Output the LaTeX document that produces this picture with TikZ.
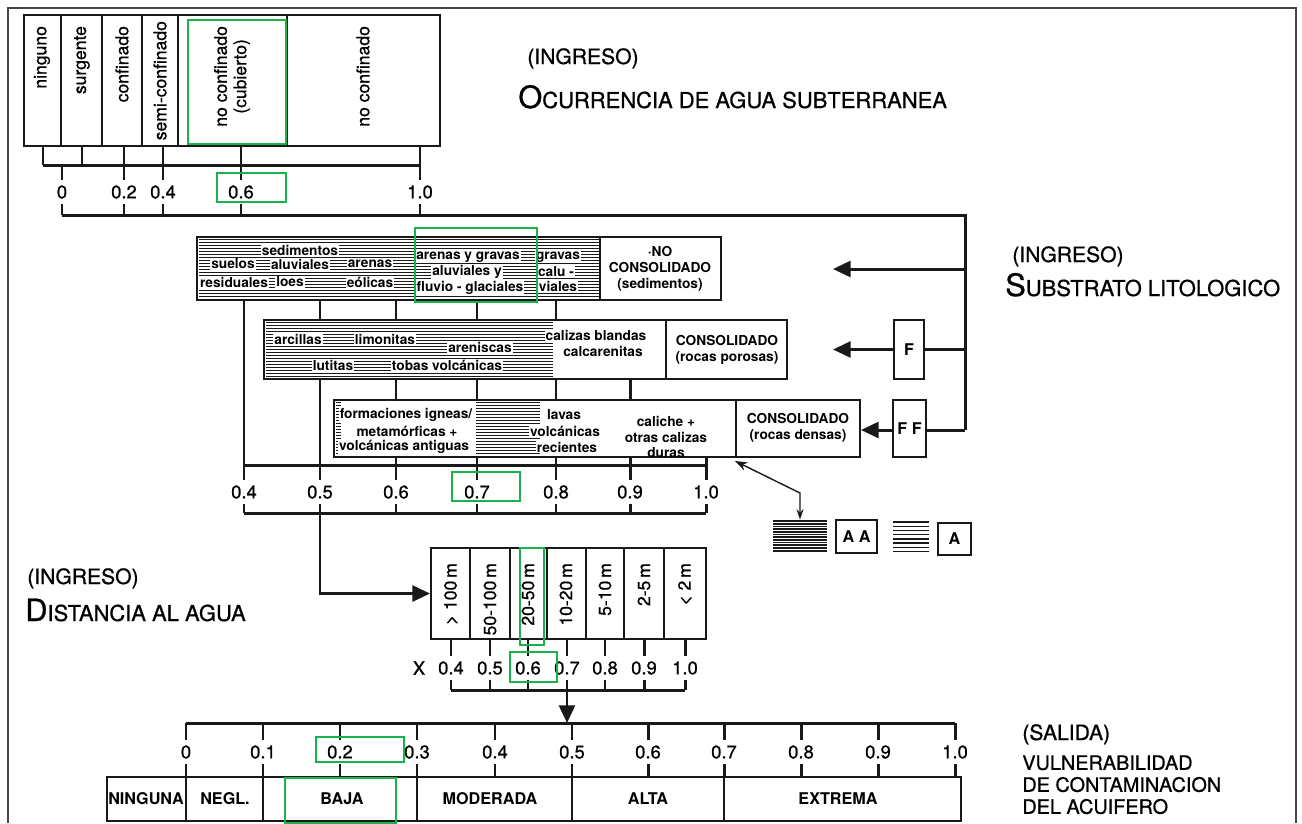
\documentclass[tikz,border=0pt]{standalone}
\usepackage{fontspec}
\setmainfont{TeX Gyre Heros}
\newfontfamily\medfont[FakeBold=0.8]{TeX Gyre Heros}
\usepackage{tikz}
\usetikzlibrary{arrows.meta, fit}
\definecolor{inkblack}{RGB}{25,25,25}
\definecolor{framegray}{RGB}{70,70,70}
\definecolor{markgreen}{RGB}{25,178,75}
\tikzset{
  box/.style={draw=inkblack, line width=1.1pt, inner sep=0pt},
  brk/.style={draw=inkblack, line width=1.7pt},
  arr/.style={brk, -{Triangle[length=10pt, width=9pt]}},
  thinarr/.style={draw=inkblack, line width=0.8pt, {Stealth[length=6pt, width=4pt]}-{Stealth[length=7pt, width=5pt]}},
  hatchline/.style={draw=inkblack, line width=0.8pt},
  vlab/.style={rotate=90, anchor=east, align=center, inner sep=1pt, font=\medfont\fontsize{10}{11}\selectfont},
  num/.style={inner sep=3pt, font=\medfont\fontsize{10.5}{12}\selectfont},
  rock/.style={align=center, inner sep=0.6pt, font=\bfseries\fontsize{7.8}{9}\selectfont},
  patch/.style={rock, fill=white},
  cls/.style={inner sep=1pt, font=\bfseries\fontsize{9.2}{11}\selectfont},
  ttl/.style={inner sep=0pt, anchor=base west, font=\medfont\fontsize{12.5}{15}\selectfont},
  ingr/.style={inner sep=0pt, anchor=base west, font=\medfont\fontsize{12}{14}\selectfont},
  greenmark/.style={draw=markgreen, line width=1.5pt}
}
\newcommand{\bigini}[2]{{\fontsize{17.5}{20}\selectfont #1}#2}
\newcommand{\hatchrect}[5]{%
  \pgfmathsetmacro\hnext{#3+#5}%
  \foreach \hy in {#3,\hnext,...,#4} \draw[hatchline] (#1,\hy) -- (#2,\hy);}

\begin{document}
\begin{tikzpicture}[x=0.02cm, y=-0.02cm]
  \useasboundingbox (0,0) rectangle (1302,823);
  % outer frame
  \draw[framegray, line width=0.9pt] (8,823) -- (8,8) -- (1296,8) -- (1296,823);

  % Ocurrencia de agua subterranea
  \node[box, fit={(24,15) (440,146)}] (ocur) {};
  \foreach \x in {61,102,142,178,287} \draw[box] (\x,15) -- (\x,146);
  \node[vlab] (ning) at (42,24) {ninguno};
  \node[vlab] (surg) at (82,24) {surgente};
  \node[vlab] (conf) at (122,24) {confinado};
  \node[vlab] (semi) at (160,19) {semi-confinado};
  \node[vlab] (cubi) at (232,24) {no confinado\\(cubierto)};
  \node[vlab] (libre) at (363,24) {no confinado};
  \foreach \x in {43,82,124,163,241,420} \draw[brk] (\x,146) -- (\x,165);
  \draw[brk] (43,165) -- (420,165);
  \foreach \nm/\x/\t in {oc0/62/0, oc2/124/0.2, oc4/163/0.4, oc6/241/0.6, oc10/420/1.0} {
    \node[num] (\nm) at (\x,192) {\t};
    \draw[brk] (\x,165) -- (\nm) -- (\x,215);
  }
  \coordinate (vbus) at (965,215);
  \draw[brk] (oc0 |- vbus) -- (vbus) -- (965,430);

  % Substrato: no consolidado
  \node[box, fit={(197,237) (721,300)}] (nocons) {};
  \hatchrect{199}{599}{239.5}{298.5}{3}
  \draw[box] (600,237) -- (600,300);
  \node[patch] (sed1) at (300,250) {sedimentos};
  \node[patch] (suel) at (233,264) {suelos};
  \node[patch] (sed2) at (300,264) {aluviales};
  \node[patch] (resi) at (234,282) {residuales};
  \node[patch] (loes) at (290,282) {loes};
  \node[patch] (are1) at (370,264) {arenas};
  \node[patch] (eoli) at (370,282) {eólicas};
  \node[patch] (agr1) at (468,257) {arenas y gravas};
  \node[patch] (agr2) at (467,272) {aluviales y};
  \node[patch] (agr3) at (470,288) {fluvio - glaciales};
  \node[patch] (grv1) at (558,257) {gravas};
  \node[patch] (grv2) at (556,272) {calu -};
  \node[patch] (grv3) at (558,286) {viales};
  \node[rock] (ncl) at (660,269) {·NO\\CONSOLIDADO\\(sedimentos)};

  % Substrato: consolidado, rocas porosas
  \node[box, fit={(264,320) (787,379)}] (conpor) {};
  \hatchrect{266}{553}{322.5}{377.5}{3}
  \draw[box] (666,320) -- (666,379);
  \node[patch] (arci) at (298,339) {arcillas};
  \node[patch] (limo) at (385,339) {limonitas};
  \node[patch] (aren) at (480,347) {areniscas};
  \node[patch] (luti) at (333,365) {lutitas};
  \node[patch] (toba) at (447,365) {tobas volcánicas};
  \node[patch] (cali) at (596,335) {calizas blandas};
  \node[patch] (calc) at (603,351) {calcarenitas};
  \node[rock] (cpl) at (727,350) {CONSOLIDADO\\(rocas porosas)};

  % Substrato: consolidado, rocas densas
  \node[box, fit={(334,400) (860,457)}] (conden) {};
  \hatchrect{336}{341}{402.5}{455.5}{3}
  \hatchrect{476}{540}{402.5}{455.5}{3}
  \draw[box] (736,400) -- (736,457);
  \node[patch] (form) at (406,415) {formaciones igneas/};
  \node[patch] (meta) at (407,431) {metamórficas +};
  \node[patch] (volc) at (404,447) {volcánicas antiguas};
  \node[patch] (lav1) at (564,415) {lavas};
  \node[patch] (lav2) at (565,431) {volcánicas};
  \node[patch] (lav3) at (567,447) {recientes};
  \node[rock] (cal) at (666,437) {caliche +\\otras calizas\\duras};
  \node[rock] (cdl) at (798,428) {CONSOLIDADO\\(rocas densas)};

  % links between the rows
  \foreach \x in {320,396,477,556} \draw[brk] (\x,0 |- nocons.south) -- (\x,0 |- conpor.north);
  \foreach \x in {396,477,556,630} \draw[brk] (\x,0 |- conpor.south) -- (\x,0 |- conden.north);
  \foreach \x in {396,477,556,630,706} \draw[brk] (\x,0 |- conden.south) -- (\x,465);
  \draw[brk] (244,0 |- nocons.south) -- (244,465);
  \draw[brk] (320,0 |- conpor.south) -- (320,465);
  \draw[brk] (244,465) -- (706,465);
  \foreach \nm/\x/\t in {sb4/244/0.4, sb5/320/0.5, sb6/396/0.6, sb7/477/0.7, sb8/556/0.8, sb9/630/0.9, sb10/706/1.0} {
    \node[num] (\nm) at (\x,492) {\t};
    \draw[brk] (\x,465) -- (\nm) -- (\x,513);
  }
  \draw[brk] (sb4 |- 0,513) -- (sb10 |- 0,513);

  % F and FF factors
  \node[box, fit={(894,320) (924,379)}] (fbox) {};
  \node[cls] (ftxt) at (fbox) {F};
  \node[box, fit={(893,400) (926,457)}] (ffbox) {};
  \node[cls] (fftxt) at (ffbox) {F F};
  \coordinate (tip1) at (833,269);
  \draw[arr] (965,269) -- (tip1);
  \draw[brk] (965,0 |- fbox) -- (fbox);
  \draw[arr] (fbox) -- (833,0 |- fbox);
  \draw[brk] (965,430) -- (ffbox.east |- 0,430);
  \draw[arr] (ffbox.west |- 0,430) -- (conden.east |- 0,430);

  % hatching key
  \node[fit={(773,520) (827,553)}, inner sep=0pt] (dense) {};
  \foreach \hy in {521,523.7,...,553} \draw[inkblack, line width=1pt] (773,\hy) -- (827,\hy);
  \node[box, fit={(836,520) (877,553)}] (aabox) {};
  \node[cls] (aatxt) at (aabox) {A A};
  \node[fit={(893,521) (929,553)}, inner sep=0pt] (light) {};
  \hatchrect{893}{929}{522}{553}{4.2}
  \node[box, fit={(938,523) (971,555)}] (abox) {};
  \node[cls] (atxt) at (abox) {A};
  \draw[thinarr] (dense.north) -- (dense.north |- 0,493) -- (735,461);

  % Distancia al agua
  \node[box, fit={(431,548) (706,639)}] (dist) {};
  \foreach \x in {470,510,547,586,624,664} \draw[box] (\x,548) -- (\x,639);
  \node[vlab] (d1) at (451,561) {> 100\,m};
  \node[vlab] (d2) at (490,561) {50-100\,m};
  \node[vlab] (d3) at (528,561) {20-50\,m};
  \node[vlab] (d4) at (566,561) {10-20\,m};
  \node[vlab] (d5) at (605,561) {5-10\,m};
  \node[vlab] (d6) at (644,561) {2-5\,m};
  \node[vlab] (d7) at (685,561) {< 2\,m};
  \draw[arr] (320,513) |- (dist);
  \node[num] (dx) at (419,668) {X};
  \foreach \nm/\x/\t in {ds4/451/0.4, ds5/490/0.5, ds6/528/0.6, ds7/567/0.7, ds8/605/0.8, ds9/644/0.9, ds10/685/1.0} {
    \node[num] (\nm) at (\x,668) {\t};
    \draw[brk] (\x,639) -- (\nm) -- (\x,690);
  }
  \draw[brk] (451,690) -- (685,690);
  \draw[arr] (567,690) -- (567,723);

  % Vulnerabilidad (salida)
  \draw[brk] (186,723) -- (955,723);
  \node[box, fit={(107,777) (961,821)}] (vuln) {};
  \foreach \x in {186,263,417,572,724} \draw[box] (\x,777) -- (\x,821);
  \foreach \nm/\x/\t in {v0/186/0, v1/263/0.1, v2/340/0.2, v3/417/0.3, v4/495/0.4, v5/572/0.5, v6/648/0.6, v7/724/0.7, v8/801/0.8, v9/878/0.9, v10/955/1.0} {
    \node[num] (\nm) at (\x,752) {\t};
    \draw[brk] (\x,723) -- (\nm) -- (\x,777);
  }
  \node[cls] (c1) at (146,799) {NINGUNA};
  \node[cls] (c2) at (225,799) {NEGL.};
  \node[cls] (c3) at (342,799) {BAJA};
  \node[cls] (c4) at (490,799) {MODERADA};
  \node[cls] (c5) at (648,799) {ALTA};
  \node[cls] (c6) at (838,799) {EXTREMA};

  % headings
  \node[ingr] (h1) at (527,64) {(INGRESO)};
  \node[ttl] (h1b) at (518,108) {\bigini{O}{CURRENCIA DE AGUA SUBTERRANEA}};
  \node[ingr] (h2) at (1012,262) {(INGRESO)};
  \node[ttl] (h2b) at (1005,296) {\bigini{S}{UBSTRATO LITOLOGICO}};
  \node[ingr] (h3) at (27,584) {(INGRESO)};
  \node[ttl] (h3b) at (25,621) {\bigini{D}{ISTANCIA AL AGUA}};
  \node[ingr] (h4) at (1022,740) {(SALIDA)};
  \node[anchor=north west, inner sep=0pt, align=left, font=\medfont\fontsize{11.3}{12.5}\selectfont] (h4b) at (1022,755) {VULNERABILIDAD\\DE CONTAMINACION\\DEL ACUIFERO};

  % green marks
  \draw[greenmark] (188,20) rectangle (286,144);
  \draw[greenmark] (217,173) rectangle (286,202);
  \draw[greenmark] (415,228) rectangle (537,302);
  \draw[greenmark] (452,472) rectangle (520,501);
  \draw[greenmark] (520,548) rectangle (544,645);
  \draw[greenmark] (510,652) rectangle (557,682);
  \draw[greenmark] (316,737) rectangle (404,762);
  \draw[greenmark] (285,778) rectangle (396,823);
\end{tikzpicture}
\end{document}
